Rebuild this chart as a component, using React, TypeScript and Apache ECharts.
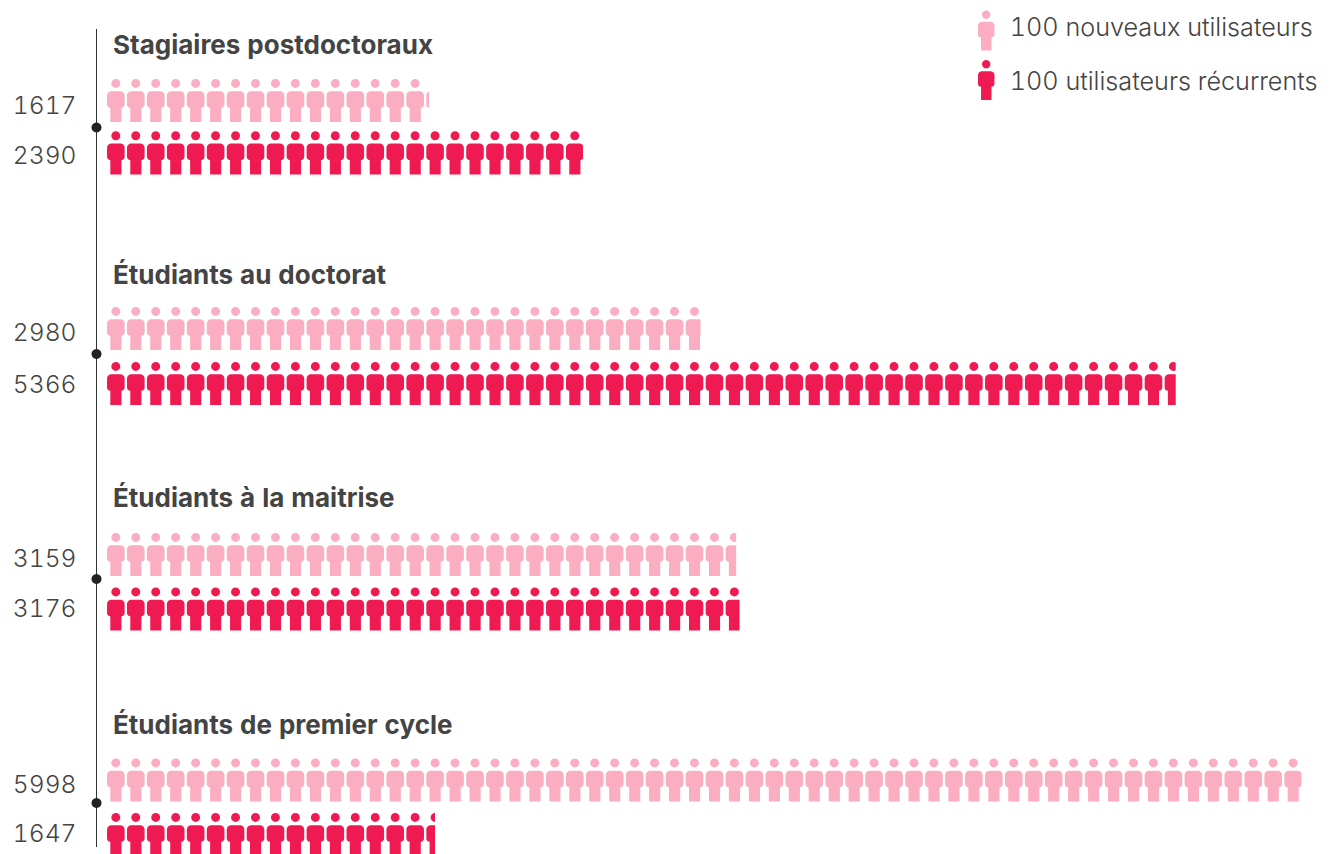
import React, { useEffect, useRef } from "react";
import * as echarts from "echarts";

const groups = ["Stagiaires postdoctoraux", "Étudiants au doctorat", "Étudiants à la maitrise", "Étudiants de premier cycle"];
const newUsers = [1617, 2980, 3159, 5998];
const returningUsers = [2390, 5366, 3176, 1647];
const seriesNames = ["100 nouveaux utilisateurs", "100 utilisateurs récurrents"];
const PINK = "#FBADC1";
const RED = "#EF1A52";
const TEXT = "#444444";
const FONT = "Inter";
const PERSON = "path://M88 0a45 45 0 1 1 0 90a45 45 0 1 1 0-90z M38 122 L139 122 C162 125 177 142 177 165 L177 255 C177 275 165 285 145 288 L145 430 L33 430 L33 288 C12 285 0 275 0 255 L0 165 C0 142 15 125 38 122z";

// layout of each group: centre of the two rows, title and dot position, label shifts
const rowCentres = [[100.5, 152.8], [328.5, 383.5], [554.5, 609], [780, 834.5]];
const labelShifts = [[4, 2], [3, 0], [3, -1], [4, -2]];
const titleTops = [29, 259, 482, 709];
const dotYs = [127.5, 354, 579, 803];

const shiftPadding = (s: number) => (s >= 0 ? [2 * s, 0, 0, 0] : [0, 0, -2 * s, 0]);

export default function App() {
  const ref = useRef<HTMLDivElement>(null);
  useEffect(() => {
    const chart = echarts.init(ref.current!, null, { renderer: "svg" });
    const grid = rowCentres.map(([a, b]) => {
      const d = b - a;
      return { left: 107, width: 1195, top: a - d / 2, height: 2 * d, outerBoundsMode: "none" };
    });
    const xAxis = groups.map((_, i) => ({
      type: "value", gridIndex: i, min: 0, max: 6000, show: false,
    }));
    const labelBase = { color: TEXT, fontFamily: FONT, fontWeight: 300, fontSize: 24.6 };
    const yAxis = groups.map((_, i) => ({
      type: "category", gridIndex: i, inverse: true,
      data: [String(newUsers[i]), String(returningUsers[i])],
      axisLine: { show: false }, axisTick: { show: false }, splitLine: { show: false },
      axisLabel: {
        show: true, margin: 30.5, align: "right", ...labelBase,
        formatter: (v: string, idx: number) => `{r${idx}|${v}}`,
        rich: {
          r0: { ...labelBase, align: "right", padding: shiftPadding(labelShifts[i][0]) },
          r1: { ...labelBase, align: "right", padding: shiftPadding(labelShifts[i][1]) },
        },
      },
    }));
    const makeSeries = (name: string, color: string, values: number[], row: number) =>
      values.map((v, i) => ({
        type: "pictorialBar", name, xAxisIndex: i, yAxisIndex: i,
        data: row === 0 ? [v, "-"] : ["-", v],
        barGap: "-100%",
        symbol: PERSON,
        symbolSize: [17.7, 43],
        symbolRepeat: true,
        symbolMargin: 1.2,
        symbolClip: true,
        symbolBoundingData: 6000,
        symbolPosition: "start",
        itemStyle: { color },
        silent: true,
      }));
    const legendText = { color: TEXT, fontFamily: FONT, fontWeight: 300, fontSize: 25.2 };
    chart.setOption({
      animation: false,
      backgroundColor: "#ffffff",
      title: groups.map((text, i) => ({
        text, left: 113, top: titleTops[i], padding: 0,
        textStyle: { color: TEXT, fontFamily: FONT, fontWeight: 700, fontSize: 26, lineHeight: 30 },
      })),
      legend: {
        left: 978, top: 10.5, orient: "vertical", align: "left", padding: 0,
        itemWidth: 17, itemHeight: 40, itemGap: 9.5,
        selectedMode: false,
        formatter: (name: string) => (name === seriesNames[0] ? `{a|${name}}` : `{b|${name}}`),
        textStyle: {
          ...legendText,
          rich: {
            a: { ...legendText, padding: [0, 0, 7, 10] },
            b: { ...legendText, padding: [2, 0, 0, 10] },
          },
        },
        data: [
          { name: seriesNames[0], icon: PERSON },
          { name: seriesNames[1], icon: PERSON },
        ],
      },
      grid, xAxis, yAxis,
      series: [
        ...makeSeries(seriesNames[0], PINK, newUsers, 0),
        ...makeSeries(seriesNames[1], RED, returningUsers, 1),
      ],
      graphic: [
        { type: "line", shape: { x1: 96.5, y1: 29, x2: 96.5, y2: 847 }, style: { stroke: "#333333", lineWidth: 1 } },
        ...dotYs.map((y) => ({ type: "circle", shape: { cx: 96.5, cy: y, r: 5 }, style: { fill: "#222222" } })),
      ],
    });
    return () => chart.dispose();
  }, []);
  return <div ref={ref} style={{ position: "fixed", left: 0, top: 0, width: 1335, height: 854, fontVariantNumeric: "tabular-nums" }} />;
}
